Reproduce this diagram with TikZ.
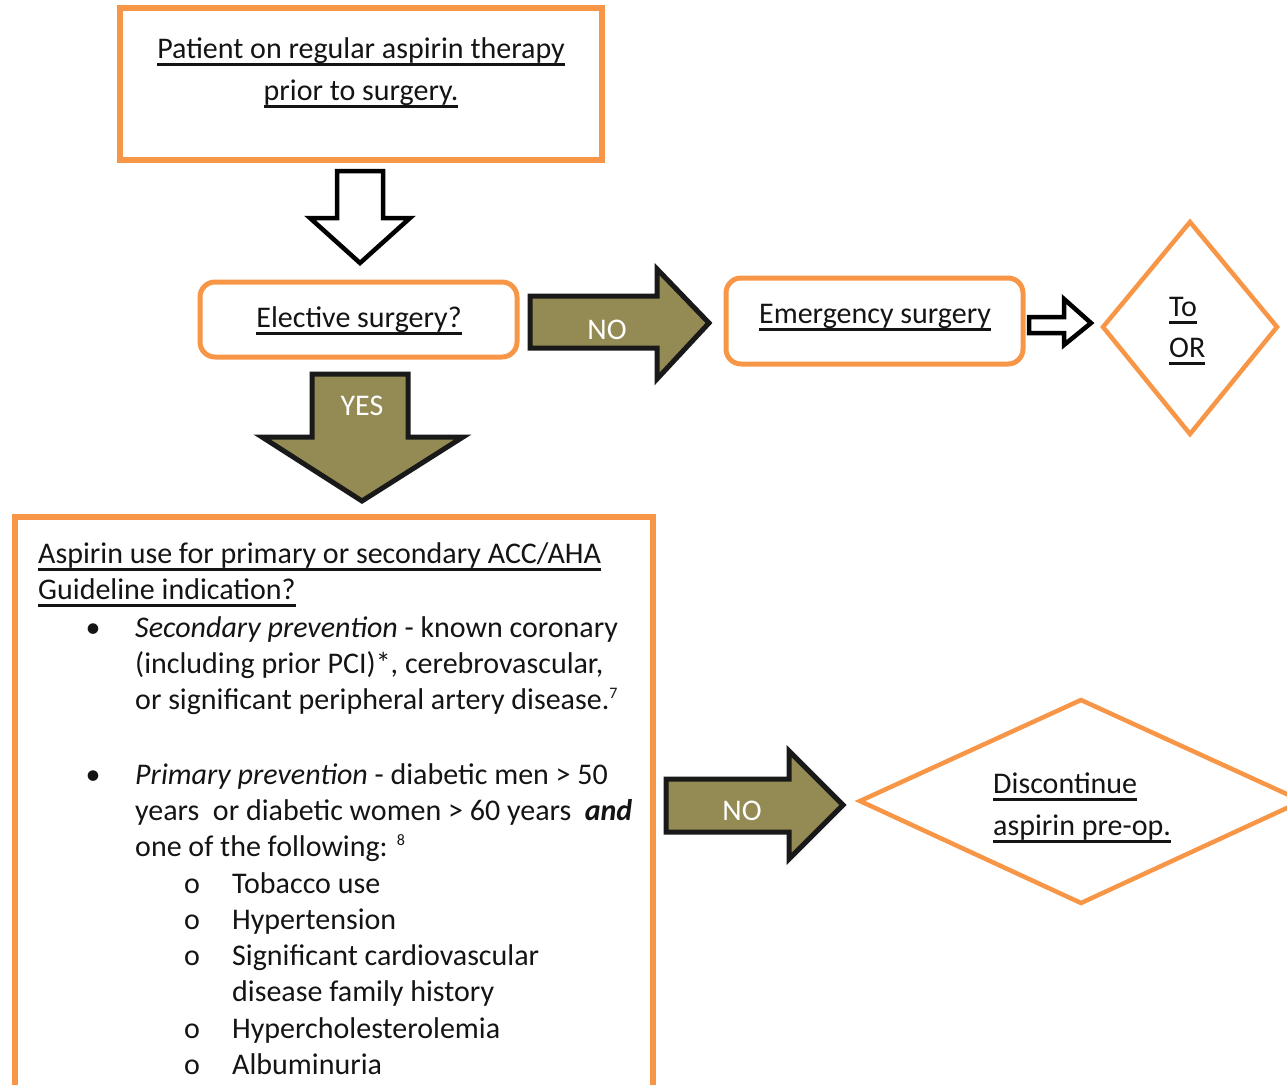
\documentclass[tikz,border=0pt]{standalone}
\usepackage{fontspec}
\setmainfont{Carlito}
\definecolor{orng}{HTML}{F79646}
\definecolor{olv}{HTML}{948A54}
\definecolor{ink}{HTML}{141414}
\newcommand\ulx[1]{\setbox0\hbox{#1}\hbox{\rlap{\color{ink}\vrule height -5pt depth 7.5pt width \wd0}\box0}}
\newcommand\supx[1]{{\fontsize{16}{16}\selectfont\raisebox{11pt}{#1}}}
\begin{document}
\begin{tikzpicture}[x=1pt,y=-1pt,
  txt/.style={font=\fontsize{30}{34}\selectfont, inner sep=0pt, text=ink},
  wtxt/.style={font=\fontsize{30}{34}\selectfont, inner sep=0pt, text=white},
  obox/.style={draw=orng, line width=6pt},
  rbox/.style={draw=orng, line width=5pt, rounded corners=15pt},
  odia/.style={draw=orng, line width=4.5pt, line join=miter},
  holl/.style={draw=black, fill=white, line width=4.5pt, line join=miter},
  blk/.style={draw=black!90, fill=olv, line width=5pt, line join=miter}]
\useasboundingbox (0,0) rectangle (1287,1084);
\clip (0,0) rectangle (1287,1084);

% top box
\draw[obox] (120,8) rectangle (602,160);
\node[txt, anchor=base] (t1) at (361,58) {\ulx{Patient on regular aspirin therapy}};
\node[txt, anchor=base] (t2) at (361,100) {\ulx{prior to surgery.}};

% hollow arrow down
\draw[holl] (337,171) -- (383,171) -- (383,218) -- (410,218) -- (360,263) -- (310,218) -- (337,218) -- cycle;

% elective box
\draw[rbox] (200,282) rectangle (517,357);
\node[txt, anchor=base] (el) at (359,327) {\ulx{Elective surgery?}};

% NO arrow 1
\draw[blk] (530,296) -- (657,296) -- (657,269) -- (709,323) -- (657,379) -- (657,348) -- (530,348) -- cycle;
\node[wtxt, anchor=base] (no1) at (607,339) {NO};

% emergency box
\draw[rbox] (726,278) rectangle (1023,364);
\node[txt, anchor=base] (em) at (875,323) {\ulx{Emergency surgery}};

% small hollow arrow
\draw[holl] (1029,317) -- (1064,317) -- (1064,299) -- (1091,323) -- (1064,345) -- (1064,333) -- (1029,333) -- cycle;

% To OR diamond
\draw[odia] (1190,222) -- (1277,327) -- (1190,434) -- (1103,327) -- cycle;
\node[txt, anchor=base west] (to) at (1169,316) {\ulx{To}};
\node[txt, anchor=base west] (or) at (1169,357) {\ulx{OR}};

% YES arrow
\draw[blk] (312,374) -- (408,374) -- (408,437) -- (463,437) -- (362,501) -- (262,437) -- (312,437) -- cycle;
\node[wtxt, anchor=base] (yes) at (362,415) {YES};

% big box
\draw[obox] (15,517) rectangle (653,1110);
\node[txt, anchor=base west] (h1) at (38,563) {\ulx{Aspirin use for primary or secondary ACC/AHA}};
\node[txt, anchor=base west] (h2) at (38,599) {\ulx{Guideline indication?}};
\node[txt, anchor=base] (b1) at (93,637) {•};
\node[txt, anchor=base west] (s1) at (135,637) {\textit{Secondary prevention} - known coronary};
\node[txt, anchor=base west] (s2) at (135,673) {(including prior PCI)*, cerebrovascular,};
\node[txt, anchor=base west] (s3) at (135,709) {or significant peripheral artery disease.\supx{7}};
\node[txt, anchor=base] (b2) at (93,784) {•};
\node[txt, anchor=base west] (p1) at (135,784) {\textit{Primary prevention} - diabetic men > 50};
\node[txt, anchor=base west] (p2) at (135,820) {years~ or diabetic women > 60 years~ \textbf{\textit{and}}};
\node[txt, anchor=base west] (p3) at (135,856) {one of the following: \supx{8}};
\foreach \y/\t [count=\i] in {893/Tobacco use, 929/Hypertension, 965/Significant cardiovascular, 1038/Hypercholesterolemia, 1074/Albuminuria}{
  \node[txt, anchor=base] (o\i) at (192,\y) {o};
  \node[txt, anchor=base west] (r\i) at (232,\y) {\t};
}
\node[txt, anchor=base west] (r3b) at (232,1001) {disease family history};

% NO arrow 2
\draw[blk] (666,779) -- (789,779) -- (789,751) -- (843,805) -- (789,859) -- (789,832) -- (666,832) -- cycle;
\node[wtxt, anchor=base] (no2) at (742,820) {NO};

% discontinue diamond
\draw[odia] (860,801) -- (1081,700) -- (1302,801) -- (1081,903) -- cycle;
\node[txt, anchor=base west] (d1) at (993,793) {\ulx{Discontinue}};
\node[txt, anchor=base west] (d2) at (993,835) {\ulx{aspirin pre-op.}};
\end{tikzpicture}
\end{document}
